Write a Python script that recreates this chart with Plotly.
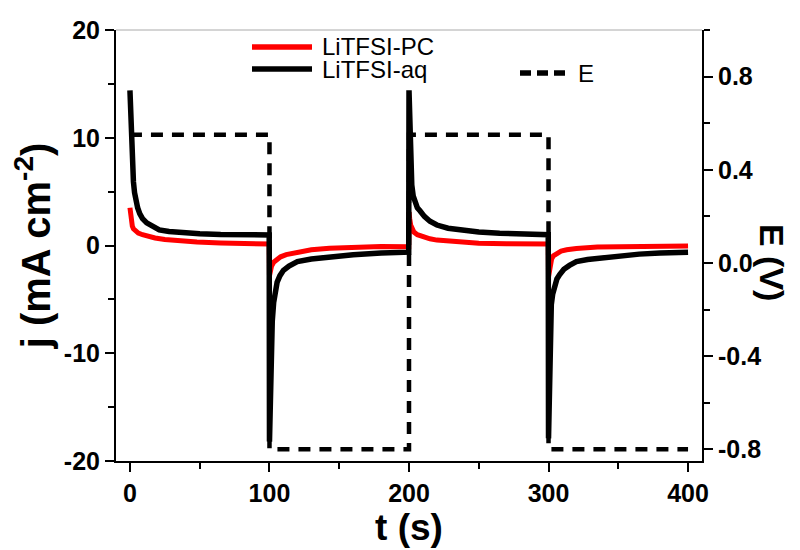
import plotly.graph_objects as go

# ---- data ----
t_aq = [0, 0.3, 0.7, 1.2, 1.8, 2.5, 3.3, 4.3, 5.5, 7, 9, 12, 16, 21, 28, 38, 50, 65, 82, 99.8,
        100, 100.3, 100.7, 101.2, 102, 103, 104, 105.5, 107.5, 110, 114, 120, 130, 143, 160, 180, 199.8,
        200, 200.3, 200.7, 201.2, 202, 203, 204.5, 206, 208, 211, 215, 220, 228, 238, 250, 265, 280, 299.8,
        300, 300.3, 300.7, 301.2, 302, 303, 304.5, 306, 308, 311, 315, 320, 328, 340, 351, 365, 380, 400]
j_aq = [14.4, 13.0, 11.0, 9.0, 7.2, 5.9, 4.9, 4.1, 3.5, 2.95, 2.5, 2.1, 1.75, 1.45, 1.3, 1.18, 1.1, 1.03, 1.0, 0.98,
        -18.2, -15.0, -11.5, -9.0, -7.0, -5.3, -4.2, -3.4, -2.8, -2.3, -1.9, -1.5, -1.25, -1.05, -0.85, -0.7, -0.62,
        14.4, 13.0, 10.5, 8.2, 5.6, 4.6, 3.9, 3.5, 3.2, 2.7, 2.25, 1.9, 1.6, 1.4, 1.25, 1.13, 1.05, 1.0,
        -17.9, -14.5, -11.0, -8.0, -5.5, -4.5, -3.6, -3.1, -2.7, -2.2, -1.85, -1.5, -1.3, -1.1, -0.95, -0.8, -0.7, -0.62]

t_pc = [0, 0.5, 1, 1.7, 2.5, 4, 6, 9, 13, 18, 25, 35, 48, 65, 82, 99.8,
        100, 100.7, 101.5, 103, 105, 108, 112, 120, 130, 143, 160, 180, 199.8,
        200, 200.5, 201.2, 202.2, 203.5, 206, 210, 215, 220, 230, 240, 250, 270, 299.8,
        300, 300.5, 301.2, 302.2, 303.5, 306, 309, 313, 320, 335, 351, 375, 400]
j_pc = [3.5, 2.7, 2.2, 1.8, 1.55, 1.3, 1.15, 1.0, 0.85, 0.7, 0.55, 0.42, 0.32, 0.23, 0.17, 0.14,
        -2.8, -2.3, -1.9, -1.55, -1.3, -1.05, -0.85, -0.6, -0.4, -0.25, -0.14, -0.1, -0.12,
        3.1, 2.5, 1.9, 1.5, 1.25, 1.0, 0.78, 0.62, 0.5, 0.37, 0.28, 0.22, 0.17, 0.14,
        -2.9, -2.3, -1.7, -1.25, -0.95, -0.7, -0.52, -0.4, -0.27, -0.15, -0.1, -0.06, -0.05]

t_E = [0, 100, 100, 200, 200, 300, 300, 400]
E_vals = [0.55, 0.55, -0.8, -0.8, 0.55, 0.55, -0.8, -0.8]

x_ticks = [0, 100, 200, 300, 400]
j_ticks = [-20, -10, 0, 10, 20]
E_ticks = [-0.8, -0.4, 0.0, 0.4, 0.8]

series_names = ["LiTFSI-PC", "LiTFSI-aq", "E"]
series_colors = ["#ff0000", "black", "black"]

FONT = "Liberation Sans, Arial, sans-serif"
tickfont = dict(family=FONT, size=25, color="black", weight="bold")

# page offset of the figure (default body margin) and plot-area geometry in page px
OFF = 8
L, R, T, B = 116, 702, 30, 461
def px(x):
    return (x - L) / (R - L)
def py(y):
    return (B - y) / (B - T)

fig = go.Figure()
fig.add_trace(go.Scatter(x=t_pc, y=j_pc, name=series_names[0], mode="lines", showlegend=False,
                         line=dict(color=series_colors[0], width=5)))
fig.add_trace(go.Scatter(x=t_aq, y=j_aq, name=series_names[1], mode="lines", showlegend=False,
                         line=dict(color=series_colors[1], width=5.5)))
fig.add_trace(go.Scatter(x=t_E, y=E_vals, name=series_names[2], mode="lines", yaxis="y2", showlegend=False,
                         line=dict(color=series_colors[2], width=4.5, dash="12px,9px")))

# legend (drawn by hand to match the long sample lines)
leg_items = [  # (line x0, x1, y, text x, dash)
    (252, 312, 47, 320, "solid"),
    (252, 312, 69, 320, "solid"),
    (520, 566, 73, 576, "11px,6px"),
]
shapes = [dict(type="line", xref="paper", yref="paper", x0=0, x1=1, y0=1, y1=1,
               line=dict(color="#aaaaaa", width=1))]
annotations = []
for (x0, x1, yy, tx, dash), name, col in zip(leg_items, series_names, series_colors):
    shapes.append(dict(type="line", xref="paper", yref="paper", x0=px(x0), x1=px(x1), y0=py(yy), y1=py(yy),
                       line=dict(color=col, width=5.5, dash=dash)))
    annotations.append(dict(text=name, xref="paper", yref="paper", x=px(tx), y=py(yy),
                            xanchor="left", yanchor="middle", showarrow=False,
                            font=dict(family=FONT, size=24, color="black")))

annotations.append(dict(text="E (V)", xref="paper", yref="paper", x=px(772), y=py(262),
                        xanchor="center", yanchor="middle", showarrow=False, textangle=90,
                        font=dict(family=FONT, size=34, color="black", weight="bold")))

fig.update_layout(
    width=800 - OFF, height=550 - OFF,
    margin=dict(l=L - OFF, r=800 - R, t=T - OFF, b=550 - B, pad=0),
    paper_bgcolor="white", plot_bgcolor="white",
    showlegend=False,
    xaxis=dict(range=[-10, 410], tickvals=x_ticks, ticktext=[str(v) for v in x_ticks], automargin=False,
               showline=True, linecolor="black", linewidth=2, mirror=False,
               ticks="outside", ticklen=9, tickwidth=2, tickcolor="black",
               minor=dict(dtick=50, tick0=0, ticks="outside", ticklen=6, tickwidth=2, tickcolor="black"),
               showgrid=False, zeroline=False, tickfont=tickfont,
               title=dict(text="t (s)", font=dict(family=FONT, size=37, color="black", weight="bold"), standoff=6)),
    yaxis=dict(range=[-20, 20], tickvals=j_ticks, ticktext=[str(v) for v in j_ticks], automargin=False,
               showline=True, linecolor="black", linewidth=2,
               ticks="outside", ticklen=9, tickwidth=2, tickcolor="black",
               minor=dict(dtick=5, tick0=0, ticks="outside", ticklen=6, tickwidth=2, tickcolor="black"),
               showgrid=False, zeroline=False, tickfont=tickfont,
               title=dict(text="j (mA cm<sup>-2</sup>)", font=dict(family=FONT, size=40, color="black", weight="bold"), standoff=4)),
    yaxis2=dict(range=[-0.85, 1.0], overlaying="y", side="right", anchor="x", automargin=False,
                tickvals=E_ticks, ticktext=["%.1f" % v for v in E_ticks],
                showline=True, linecolor="black", linewidth=2,
                ticks="outside", ticklen=9, tickwidth=2, tickcolor="black",
                minor=dict(dtick=0.2, tick0=0, ticks="outside", ticklen=6, tickwidth=2, tickcolor="black"),
                showgrid=False, zeroline=False, tickfont=tickfont),
    shapes=shapes,
    annotations=annotations,
)

fig.write_html("out.html")
